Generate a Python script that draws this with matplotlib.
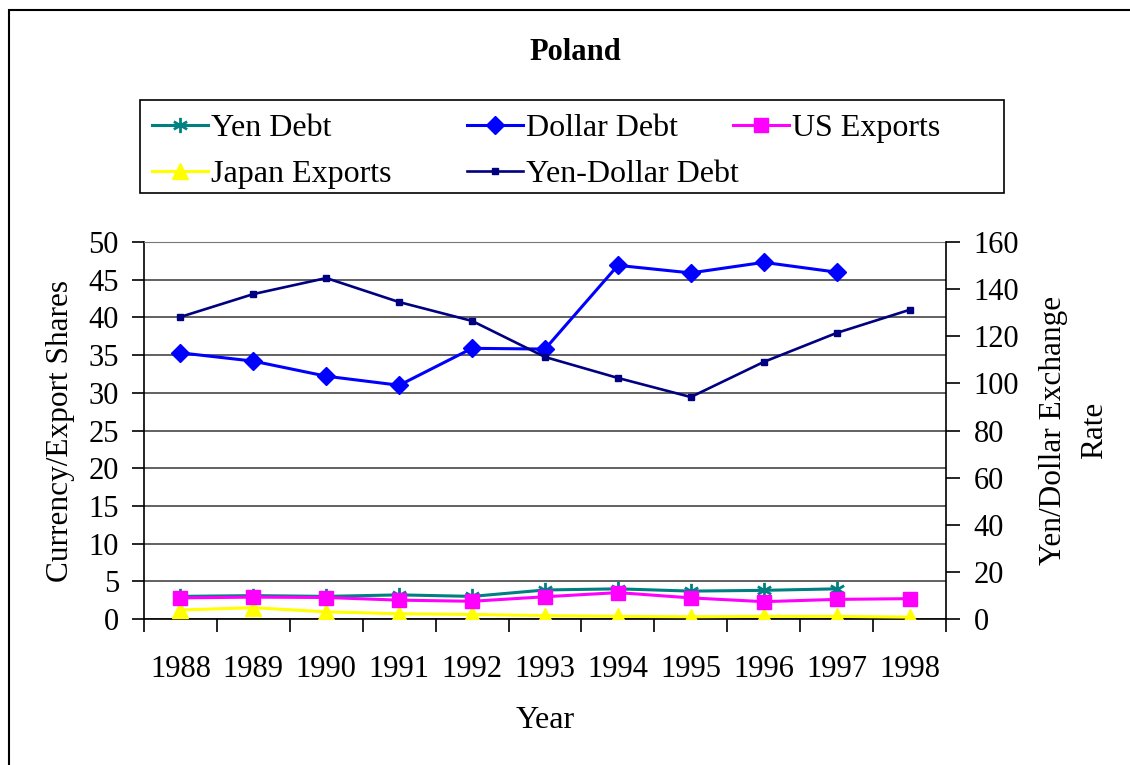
import matplotlib
matplotlib.use("Agg")
import matplotlib.pyplot as plt
from matplotlib.patches import Rectangle
from matplotlib.path import Path

plt.rcParams['font.family'] = ['Liberation Serif', 'DejaVu Serif']

years = ['1988', '1989', '1990', '1991', '1992', '1993', '1994', '1995', '1996', '1997', '1998']
yen_debt = [3.0, 3.1, 3.0, 3.2, 3.0, 3.85, 4.0, 3.7, 3.8, 4.0, None]
dollar_debt = [35.3, 34.2, 32.2, 31.0, 35.9, 35.8, 46.9, 45.9, 47.3, 46.0, None]
us_exports = [2.8, 2.9, 2.85, 2.5, 2.35, 2.95, 3.5, 2.8, 2.3, 2.6, 2.7]
japan_exports = [1.2, 1.5, 0.95, 0.7, 0.6, 0.45, 0.35, 0.3, 0.35, 0.35, 0.25]
yen_dollar = [128.2, 137.9, 144.7, 134.5, 126.5, 111.2, 102.3, 94.2, 109.1, 121.4, 131.2]

FS = 22
W, H = 1130, 765

fig = plt.figure(figsize=(W / 100, H / 100), dpi=100)
ax = fig.add_axes([144 / W, 1 - 619 / H, 802 / W, 377 / H])
ax2 = ax.twinx()

x = list(range(len(years)))

def clean(vals):
    return [float('nan') if v is None else v for v in vals]

# excel style asterisk: one vertical stroke and two slanted ones
ast = Path([(0, -1), (0, 1), (-0.87, -0.5), (0.87, 0.5), (-0.87, 0.5), (0.87, -0.5)],
           [Path.MOVETO, Path.LINETO, Path.MOVETO, Path.LINETO, Path.MOVETO, Path.LINETO])

l1, = ax.plot(x, clean(yen_debt), color='#008080', lw=2.2, marker=ast, ms=11,
              mew=2, label='Yen Debt', zorder=3)
l2, = ax.plot(x, clean(dollar_debt), color='#0000FF', lw=2.2, marker='D', ms=9.5,
              label='Dollar Debt', zorder=3)
l3, = ax.plot(x, us_exports, color='#FF00FF', lw=2.2, marker='s', ms=10.5,
              label='US Exports', zorder=4)
l4, = ax.plot(x, japan_exports, color='#FFFF00', lw=2.2, marker='^', ms=12,
              label='Japan Exports', zorder=3)
l5, = ax2.plot(x, yen_dollar, color='#000080', lw=1.9, marker='s', ms=4,
               label='Yen-Dollar Debt', zorder=3)

ax.set_xlim(-0.5, len(years) - 0.5)
ax.set_ylim(0, 50)
ax2.set_ylim(0, 160)
ax.set_yticks(range(0, 51, 5))
ax2.set_yticks(range(0, 161, 20))

ax.set_xticks([i - 0.5 for i in range(len(years) + 1)])
ax.set_xticklabels([])
ax.set_xticks(x, minor=True)
ax.set_xticklabels(years, minor=True)
ax.tick_params(axis='x', which='major', direction='out', length=9, width=1.2)
ax.tick_params(axis='x', which='minor', length=0, pad=26, labelsize=FS)
ax.tick_params(axis='y', direction='out', length=9, width=1.2, pad=9, labelsize=FS)
ax2.tick_params(axis='y', direction='out', length=10, width=1.2, pad=10, labelsize=FS)

ax.yaxis.grid(True, color='#555555', lw=1.3)
ax.set_axisbelow(True)
for s in ['left', 'bottom']:
    ax.spines[s].set_linewidth(1.2)
ax.spines['top'].set_color('#777777')
ax.spines['right'].set_visible(False)
ax2.spines['top'].set_visible(False)
ax2.spines['left'].set_visible(False)
ax2.spines['bottom'].set_visible(False)
ax2.spines['right'].set_linewidth(1.2)

ax.set_xlabel('Year', fontsize=FS + 1, labelpad=16)
ax.set_ylabel('Currency/Export Shares', fontsize=FS + 0.5, labelpad=10)
ax2.set_ylabel('Yen/Dollar Exchange\nRate', fontsize=FS + 0.5, labelpad=14,
               linespacing=1.55)

fig.text(575 / W, 1 - 53 / H, 'Poland', ha='center', va='center',
         fontsize=FS, fontweight='bold')

# legend: one frameless legend per column, like excel's fixed columns
columns = [([l1, l4], 152), ([l2, l5], 467), ([l3], 733)]
for handles, left in columns:
    lg = fig.legend(handles=handles, loc='upper left',
                    bbox_to_anchor=(left / W, 1 - 114 / H), fontsize=FS + 1,
                    frameon=False, handlelength=1.75, handletextpad=0.1,
                    labelspacing=0.5, borderaxespad=0, borderpad=0)
fig.patches.append(Rectangle((140 / W, 1 - 193 / H), 864 / W, 93 / H,
                             transform=fig.transFigure, fill=False,
                             edgecolor='black', lw=1.2))

fig.patches.append(Rectangle((9 / W, -0.1), 1.2, (1 - 10 / H) + 0.1,
                             transform=fig.transFigure, fill=False,
                             edgecolor='black', lw=1.5, clip_on=False))

fig.savefig('out.png', dpi=100)
